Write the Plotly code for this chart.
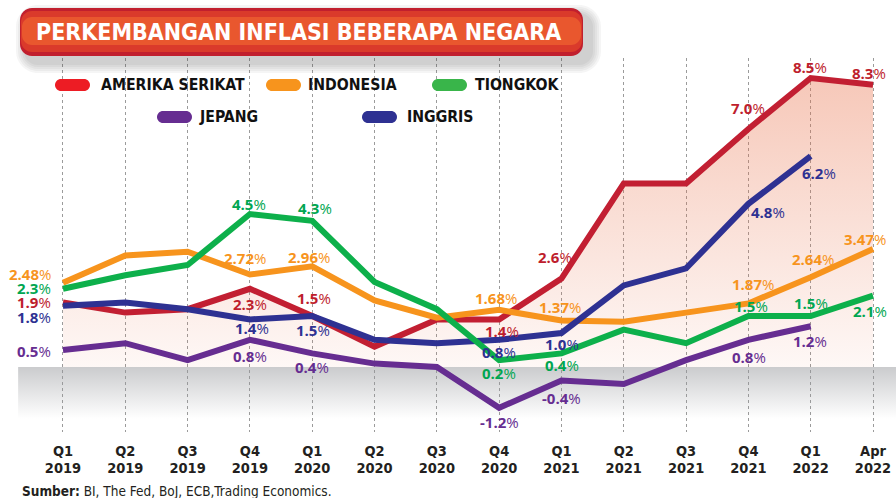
import plotly.graph_objects as go

# ---- data -------------------------------------------------------------
quarters = ["Q1", "Q2", "Q3", "Q4", "Q1", "Q2", "Q3", "Q4", "Q1", "Q2", "Q3", "Q4", "Q1", "Apr"]
years = ["2019", "2019", "2019", "2019", "2020", "2020", "2020", "2020",
         "2021", "2021", "2021", "2021", "2022", "2022"]

amerika_serikat = [1.9, 1.6, 1.7, 2.3, 1.5, 0.6, 1.4, 1.4, 2.6, 5.4, 5.4, 7.0, 8.5, 8.3]
indonesia = [2.48, 3.28, 3.39, 2.72, 2.96, 1.96, 1.45, 1.68, 1.37, 1.33, 1.60, 1.87, 2.64, 3.47]
tiongkok = [2.3, 2.7, 3.0, 4.5, 4.3, 2.5, 1.7, 0.2, 0.4, 1.1, 0.7, 1.5, 1.5, 2.1]
jepang = [0.5, 0.7, 0.2, 0.8, 0.4, 0.1, 0.0, -1.2, -0.4, -0.5, 0.2, 0.8, 1.2, None]
inggris = [1.8, 1.9, 1.7, 1.4, 1.5, 0.8, 0.7, 0.8, 1.0, 2.4, 2.9, 4.8, 6.2, None]

idx = list(range(len(quarters)))

# ---- styling ----------------------------------------------------------
W, H = 896, 498
PT, PB = 58, 432            # plot area top / bottom in pixels
NARROW = "'Liberation Sans Narrow', 'Arial Narrow', 'DejaVu Sans Condensed', sans-serif"
LABEL_FONT = "'Open Sans', 'Noto Sans', sans-serif"
INK = "#231f20"

series = [
    # name, values, line colour, label colour, legend colour, decimals
    ("AMERIKA SERIKAT", amerika_serikat, "#c21f32", "#be1e2d", "#ed1c24", 1),
    ("INDONESIA", indonesia, "#f7941d", "#f7941d", "#f7941d", 2),
    ("INGGRIS", inggris, "#2e3192", "#2e3192", "#2e3192", 1),
    ("TIONGKOK", tiongkok, "#0db04b", "#00a651", "#39b54a", 1),
    ("JEPANG", jepang, "#662d91", "#662d91", "#662d91", 1),
]

# value-label placement: (series name, point index, xshift, yshift, xanchor)
label_spots = [
    ("AMERIKA SERIKAT", 0, -11, 0, "right"), ("AMERIKA SERIKAT", 3, 0, -15, "center"),
    ("AMERIKA SERIKAT", 4, 2, 18, "center"), ("AMERIKA SERIKAT", 7, 3, -12, "center"),
    ("AMERIKA SERIKAT", 8, -6, 22, "center"), ("AMERIKA SERIKAT", 11, 0, 21, "center"),
    ("AMERIKA SERIKAT", 12, -1, 11, "center"), ("AMERIKA SERIKAT", 13, -4, 12, "center"),
    ("INDONESIA", 0, -11, 9, "right"), ("INDONESIA", 3, -5, 17, "center"),
    ("INDONESIA", 4, -3, 9, "center"), ("INDONESIA", 7, -3, 12, "center"),
    ("INDONESIA", 8, -1, 13, "center"), ("INDONESIA", 11, 5, 19, "center"),
    ("INDONESIA", 12, 2, 18, "center"), ("INDONESIA", 13, -8, 10, "center"),
    ("TIONGKOK", 0, -11, 1, "right"), ("TIONGKOK", 3, -1, 10, "center"),
    ("TIONGKOK", 4, 3, 13, "center"), ("TIONGKOK", 7, 0, -13, "center"),
    ("TIONGKOK", 8, 1, -12, "center"), ("TIONGKOK", 11, 3, 10, "center"),
    ("TIONGKOK", 12, 0, 13, "center"), ("TIONGKOK", 13, -3, -15, "center"),
    ("JEPANG", 0, -11, -1, "right"), ("JEPANG", 3, 0, -16, "center"),
    ("JEPANG", 4, 0, -14, "center"), ("JEPANG", 7, 0, -14, "center"),
    ("JEPANG", 8, 0, -17, "center"), ("JEPANG", 11, 1, -17, "center"),
    ("JEPANG", 12, -1, -15, "center"),
    ("INGGRIS", 0, -11, -11, "right"), ("INGGRIS", 3, 2, -9, "center"),
    ("INGGRIS", 4, 1, -14, "center"), ("INGGRIS", 7, 0, -12, "center"),
    ("INGGRIS", 8, 1, -11, "center"), ("INGGRIS", 11, 20, -8, "center"),
    ("INGGRIS", 12, 8, -17, "center"),
]

# legend layout: (name, pill left x, centre y, text left x) in pixels
legend_spots = [
    ("AMERIKA SERIKAT", 55, 85, 99), ("INDONESIA", 266, 85, 306),
    ("TIONGKOK", 432, 85, 473), ("JEPANG", 157, 117, 197),
    ("INGGRIS", 362, 117, 405),
]


def px(x):
    return x / W


def py(y):
    return (PB - y) / (PB - PT)


def rounded_path(x0, y0, x1, y1, r):
    """Rounded rectangle in pixel space, returned as a paper-space SVG path."""
    k = 0.5523 * r
    pts = [
        ("M", [(x0 + r, y0)]), ("L", [(x1 - r, y0)]),
        ("C", [(x1 - r + k, y0), (x1, y0 + r - k), (x1, y0 + r)]),
        ("L", [(x1, y1 - r)]),
        ("C", [(x1, y1 - r + k), (x1 - r + k, y1), (x1 - r, y1)]),
        ("L", [(x0 + r, y1)]),
        ("C", [(x0 + r - k, y1), (x0, y1 - r + k), (x0, y1 - r)]),
        ("L", [(x0, y0 + r)]),
        ("C", [(x0, y0 + r - k), (x0 + r - k, y0), (x0 + r, y0)]),
    ]
    out = []
    for cmd, coords in pts:
        out.append(cmd + " ".join(f"{px(a):.5f},{py(b):.5f}" for a, b in coords))
    return " ".join(out) + " Z"


fig = go.Figure()

# grey band below zero
fig.add_trace(go.Scatter(
    x=[-0.72, 13.6, 13.6, -0.72], y=[0, 0, -1.95, -1.95],
    fill="toself", mode="none", hoverinfo="skip", showlegend=False,
    fillgradient=dict(type="vertical", start=-1.95, stop=0,
                      colorscale=[[0, "rgba(150,152,156,0)"],
                                  [0.22, "rgba(150,152,156,0)"],
                                  [1, "rgba(150,152,156,0.5)"]]),
))

# soft red area under the US series
fig.add_trace(go.Scatter(
    x=idx, y=amerika_serikat, fill="tozeroy", mode="none",
    hoverinfo="skip", showlegend=False,
    fillgradient=dict(type="vertical", start=0, stop=8.5,
                      colorscale=[[0, "rgba(232,110,70,0.05)"],
                                  [1, "rgba(232,110,70,0.38)"]]),
))

for name, vals, lc, _, _, _ in series:
    fig.add_trace(go.Scatter(
        x=idx, y=vals, mode="lines", name=name, showlegend=False,
        line=dict(color=lc, width=6), hoverinfo="skip",
    ))

# helper trace so the year axis is drawn
fig.add_trace(go.Scatter(x=idx, y=[None] * len(idx), xaxis="x2", mode="lines",
                         showlegend=False, hoverinfo="skip"))

annotations = []
lookup = {s[0]: s for s in series}
for name, i, dx, dy, xa in label_spots:
    _, vals, _, tc, _, dec = lookup[name]
    v = vals[i]
    annotations.append(dict(
        x=i, y=v, xref="x", yref="y", showarrow=False,
        text=f"<b>{v:.{dec}f}</b>%", xanchor=xa, yanchor="middle",
        xshift=dx, yshift=dy, borderpad=0,
        font=dict(family=LABEL_FONT, size=15, color=tc),
    ))

shapes = []

# title box: shadow, body and highlight
for k in range(5):
    g = 2 + k * 2
    shapes.append(dict(type="path", xref="paper", yref="paper", layer="above",
                       path=rounded_path(20 - g + 6, 8 - g + 7, 583 + g + 8, 56 + g + 7, 12 + g),
                       fillcolor="rgba(60,60,60,0.05)", line=dict(width=0)))
shapes.append(dict(type="path", xref="paper", yref="paper", layer="above",
                   path=rounded_path(20, 8, 583, 56, 12),
                   fillcolor="#c11f2e", line=dict(width=0)))
shapes.append(dict(type="path", xref="paper", yref="paper", layer="above",
                   path=rounded_path(21, 11, 582, 52, 11),
                   fillcolor="#da3a2b", line=dict(width=0)))
shapes.append(dict(type="path", xref="paper", yref="paper", layer="above",
                   path=rounded_path(22, 17, 581, 45, 10),
                   fillcolor="rgba(238,98,48,0.75)", line=dict(width=0)))

annotations.append(dict(
    x=px(298), y=py(32), xref="paper", yref="paper", showarrow=False,
    text="PERKEMBANGAN INFLASI BEBERAPA NEGARA", xanchor="center", yanchor="middle",
    font=dict(family=NARROW, size=23, color="white", weight="bold"),
))

# legend
for name, x0, cy, tx in legend_spots:
    col = lookup[name][4]
    shapes.append(dict(type="path", xref="paper", yref="paper", layer="above",
                       path=rounded_path(x0, cy - 6, x0 + 35, cy + 6, 6),
                       fillcolor=col, line=dict(width=0)))
    annotations.append(dict(
        x=px(tx), y=py(cy), xref="paper", yref="paper", showarrow=False,
        text=name, xanchor="left", yanchor="middle",
        font=dict(family=NARROW, size=15.7, color="#111111", weight="bold"),
    ))

annotations.append(dict(
    x=px(20), y=py(491), xref="paper", yref="paper", showarrow=False,
    text="<b>Sumber:</b> BI, The Fed, BoJ, ECB,Trading Economics.",
    xanchor="left", yanchor="middle",
    font=dict(family=NARROW, size=13.5, color=INK),
))

xrange = [-1.011, 13.369]
tickfont = dict(family=NARROW, size=14.5, color=INK, weight="bold")

fig.update_layout(
    width=W, height=H,
    margin=dict(l=0, r=0, t=PT, b=H - PB, pad=0),
    paper_bgcolor="white", plot_bgcolor="rgba(0,0,0,0)",
    showlegend=False,
    xaxis=dict(range=xrange, tickvals=idx, ticktext=quarters, showgrid=True,
               gridcolor="#9b9b9b", griddash="3px,3px", gridwidth=1,
               zeroline=False, showline=False, ticks="", tickfont=tickfont,
               ticklabelstandoff=8, fixedrange=True),
    xaxis2=dict(range=xrange, tickvals=idx, ticktext=years, overlaying="x",
                anchor="y", side="bottom", showgrid=False, zeroline=False,
                showline=False, ticks="", tickfont=tickfont,
                ticklabelstandoff=25, fixedrange=True),
    yaxis=dict(range=[-(PB - 367) / 34, (367 - PT) / 34], visible=False,
               showgrid=False, zeroline=False, fixedrange=True),
    shapes=shapes,
    annotations=annotations,
)

fig.write_html("out.html", config={"displayModeBar": False})
